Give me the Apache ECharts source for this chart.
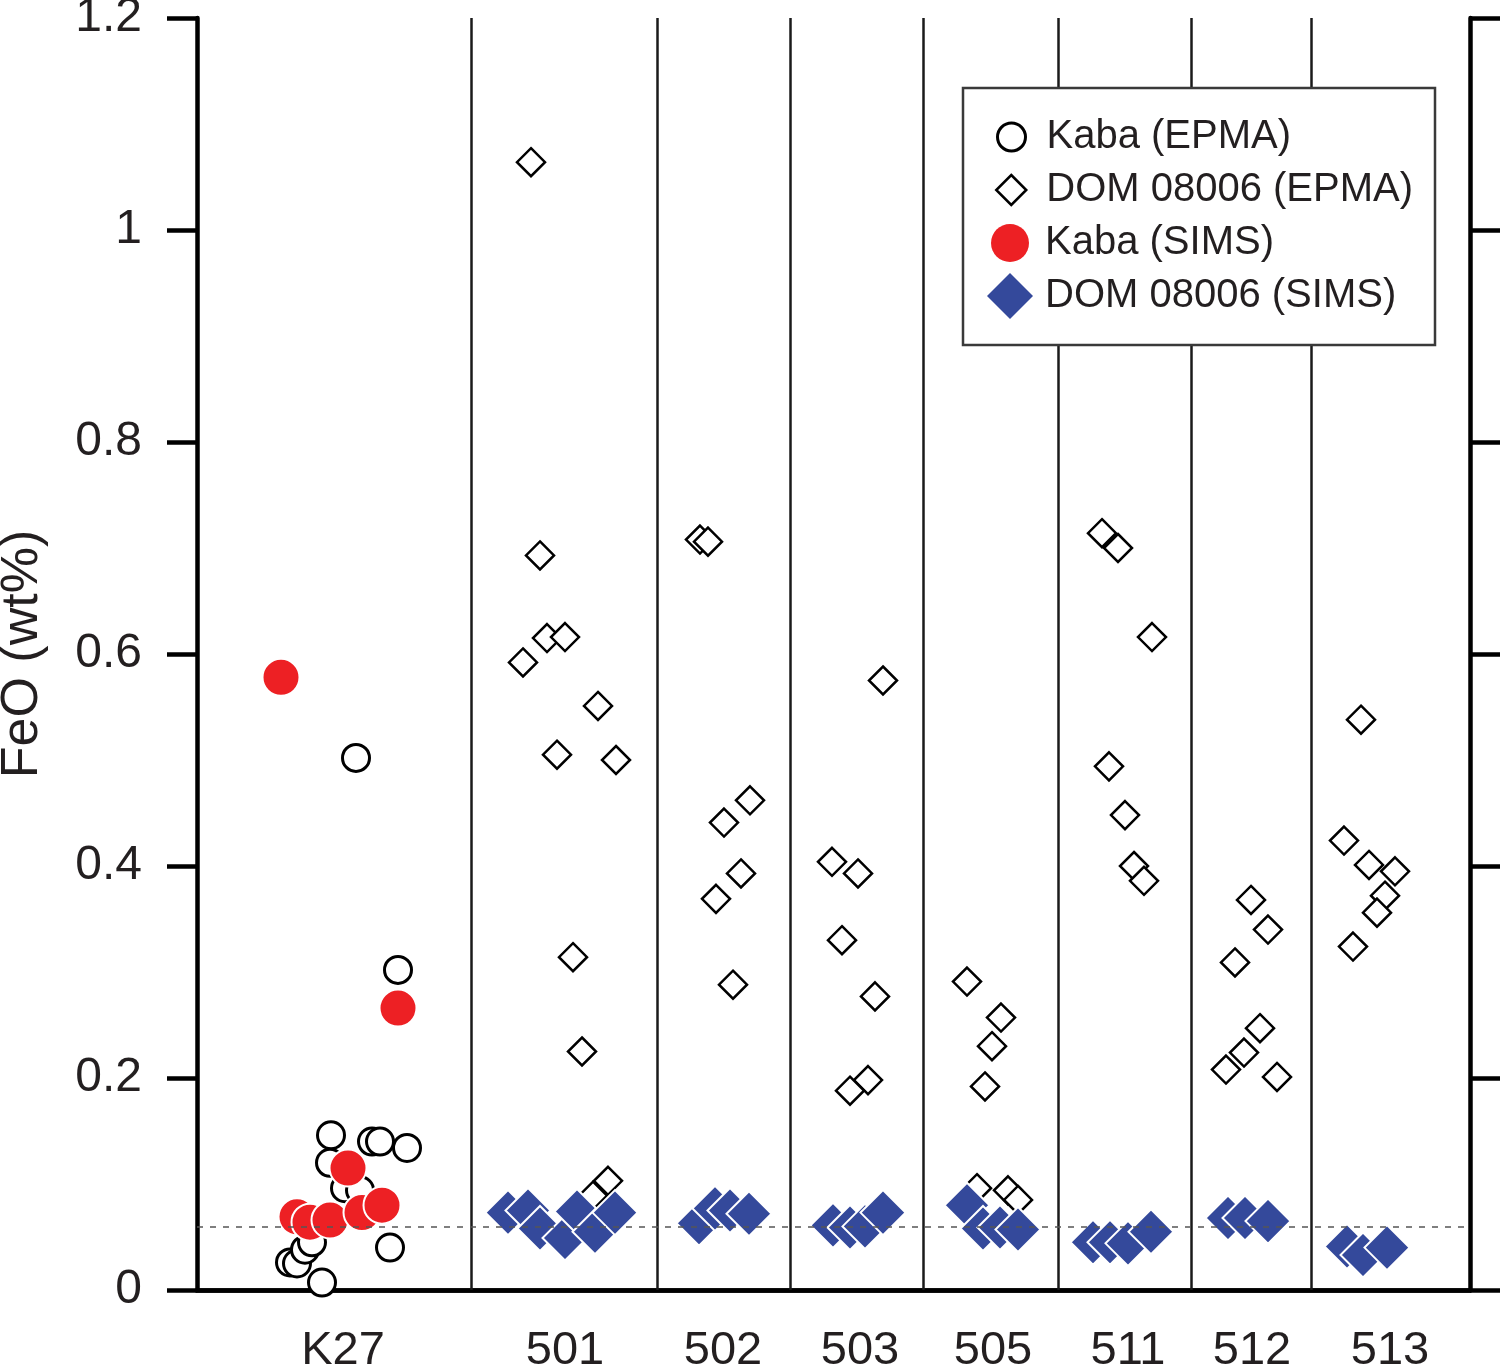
<!DOCTYPE html>
<html>
<head>
<meta charset="utf-8">
<title>FeO (wt%)</title>
<script src="https://cdn.jsdelivr.net/npm/echarts@6/dist/echarts.min.js"></script>
<style>
  html, body { margin: 0; padding: 0; background: #fff; }
  #chart { width: 1500px; height: 1367px; }
</style>
</head>
<body>
<div id="chart"></div>
<script>
// groups along the bottom, where their labels sit and where the columns split
const groups = ['K27', '501', '502', '503', '505', '511', '512', '513']
const groupCentres = [343, 565, 723, 860, 993, 1128, 1252, 1390]
const dividers = [471, 657, 790, 923, 1058, 1191, 1311]
const guideLevel = 0.055

// Kaba (EPMA), open circles
const kabaEpmaX = [356, 398, 331, 372, 380, 407, 330, 345, 360, 290, 297, 305, 312, 322, 390]
const kabaEpmaY = [0.502, 0.302, 0.146, 0.140, 0.140, 0.134, 0.120, 0.096, 0.094, 0.026, 0.025, 0.038, 0.045, 0.007, 0.040]

// DOM 08006 (EPMA), open diamonds
const domEpmaX = [
  531, 540, 523, 547, 565, 598, 557, 616, 573, 582, 608, 593,
  700, 708, 750, 724, 741, 716, 733,
  883, 832, 858, 842, 875, 868, 850,
  967, 1001, 992, 985, 977, 1008, 1018,
  1102, 1118, 1152, 1109, 1125, 1134, 1144,
  1251, 1268, 1235, 1260, 1244, 1226, 1277,
  1361, 1344, 1369, 1395, 1385, 1377, 1353
]
const domEpmaY = [
  1.064, 0.693, 0.592, 0.615, 0.616, 0.551, 0.505, 0.500, 0.314, 0.225, 0.103, 0.089,
  0.708, 0.706, 0.462, 0.441, 0.393, 0.369, 0.288,
  0.575, 0.404, 0.393, 0.330, 0.277, 0.198, 0.188,
  0.291, 0.257, 0.230, 0.192, 0.096, 0.094, 0.085,
  0.714, 0.700, 0.616, 0.494, 0.448, 0.400, 0.386,
  0.368, 0.340, 0.309, 0.247, 0.224, 0.208, 0.201,
  0.538, 0.424, 0.401, 0.395, 0.372, 0.356, 0.324
]

// Kaba (SIMS), red dots
const kabaSimsX = [281, 398, 348, 297, 310, 330, 362, 382]
const kabaSimsY = [0.578, 0.266, 0.115, 0.069, 0.064, 0.066, 0.073, 0.080]

// DOM 08006 (SIMS), blue diamonds
const domSimsX = [
  508, 528, 540, 565, 577, 595, 615,
  699, 715, 730, 749,
  833, 850, 865, 883,
  967, 983, 1000, 1018,
  1093, 1110, 1128, 1151,
  1228, 1245, 1268,
  1347, 1363, 1387
]
const domSimsY = [
  0.073, 0.075, 0.058, 0.049, 0.074, 0.055, 0.073,
  0.063, 0.077, 0.075, 0.072,
  0.061, 0.059, 0.060, 0.073,
  0.080, 0.058, 0.059, 0.057,
  0.045, 0.045, 0.044, 0.055,
  0.068, 0.068, 0.065,
  0.041, 0.033, 0.040
]

const font = 'Liberation Sans, Arial, sans-serif'
const ink = '#231f20'

function pairs(xs, ys) {
  return xs.map((x, i) => [x, ys[i]])
}

// one legend per row so each icon keeps its own size; icons centred on x=1010, text from x=1045
function legendRow(name, icon, top, size, itemStyle) {
  return {
    data: [{ name: name, icon: icon }],
    left: 1010 - size / 2,
    top: top,
    padding: 0,
    itemWidth: size,
    itemHeight: size,
    symbolKeepAspect: true,
    selectedMode: false,
    z: 60,
    itemStyle: itemStyle,
    textStyle: {
      fontFamily: font,
      fontSize: 40,
      color: ink,
      lineHeight: 46,
      padding: [0, 0, 0, 30 - size / 2]
    }
  }
}

const myChart = echarts.init(document.querySelector('#chart'))

const option = {
  animation: false,
  grid: { left: 197, right: 30, top: 18, bottom: 77, outerBoundsMode: 'none', containLabel: false },
  xAxis: [
    {
      type: 'value',
      min: 197,
      max: 1470,
      position: 'bottom',
      axisLine: { show: true, lineStyle: { color: '#000', width: 4.5 } },
      axisTick: { show: false },
      splitLine: { show: false },
      axisLabel: {
        customValues: groupCentres,
        formatter: v => groups[groupCentres.indexOf(v)],
        margin: 38,
        fontFamily: font,
        fontSize: 47,
        color: ink
      }
    },
    {
      type: 'value',
      min: 197,
      max: 1470,
      position: 'top',
      axisLine: { show: true, lineStyle: { color: '#000', width: 4.5 } },
      axisTick: { show: false },
      axisLabel: { show: false },
      splitLine: { show: false }
    }
  ],
  yAxis: [
    {
      type: 'value',
      min: 0,
      max: 1.2,
      interval: 0.2,
      name: 'FeO (wt%)',
      nameLocation: 'middle',
      nameGap: 148,
      nameTextStyle: { fontFamily: font, fontSize: 52, color: ink },
      axisLine: { show: true, lineStyle: { color: '#000', width: 4.5 } },
      axisTick: { show: true, inside: false, length: 30, lineStyle: { color: '#000', width: 4.5 } },
      axisLabel: { margin: 55, fontFamily: font, fontSize: 48, color: ink },
      splitLine: { show: false }
    },
    {
      type: 'value',
      min: 0,
      max: 1.2,
      interval: 0.2,
      position: 'right',
      axisLine: { show: true, lineStyle: { color: '#000', width: 4.5 } },
      axisTick: { show: true, inside: false, length: 30, lineStyle: { color: '#000', width: 4.5 } },
      axisLabel: { show: false },
      splitLine: { show: false }
    }
  ],
  legend: [
    legendRow('Kaba (EPMA)', 'circle', 114, 28, { color: '#fff', borderColor: '#000', borderWidth: 3 }),
    legendRow('DOM 08006 (EPMA)', 'diamond', 167, 30, { color: '#fff', borderColor: '#000', borderWidth: 2.5 }),
    legendRow('Kaba (SIMS)', 'circle', 220, 38, { color: '#ed2024', borderWidth: 0 }),
    legendRow('DOM 08006 (SIMS)', 'diamond', 273, 46, { color: '#34499b', borderWidth: 0 })
  ],
  graphic: [
    {
      type: 'rect',
      z: 50,
      shape: { x: 963, y: 88, width: 472, height: 257 },
      style: { fill: '#fff', stroke: '#3a3a3a', lineWidth: 2.5 }
    }
  ],
  series: [
    {
      // column dividers and the dotted guide line
      type: 'line',
      data: [],
      z: 1,
      silent: true,
      markLine: {
        silent: true,
        symbol: ['none', 'none'],
        label: { show: false },
        animation: false,
        data: [
          ...dividers.map(x => ({ xAxis: x, lineStyle: { color: '#1a1a1a', width: 2.5, type: 'solid' } })),
          { yAxis: guideLevel, lineStyle: { color: '#555', width: 1.5, type: [6, 7] } }
        ]
      }
    },
    {
      name: 'Kaba (EPMA)',
      type: 'scatter',
      symbol: 'circle',
      symbolSize: 27,
      symbolKeepAspect: true,
      itemStyle: { color: '#fff', borderColor: '#000', borderWidth: 3, opacity: 1 },
      emphasis: { disabled: true },
      data: pairs(kabaEpmaX, kabaEpmaY)
    },
    {
      name: 'DOM 08006 (EPMA)',
      type: 'scatter',
      symbol: 'diamond',
      symbolSize: 28,
      symbolKeepAspect: true,
      itemStyle: { color: '#fff', borderColor: '#000', borderWidth: 2.5, opacity: 1 },
      emphasis: { disabled: true },
      data: pairs(domEpmaX, domEpmaY)
    },
    {
      name: 'Kaba (SIMS)',
      type: 'scatter',
      symbol: 'circle',
      symbolSize: 37,
      symbolKeepAspect: true,
      itemStyle: { color: '#ed2024', borderColor: '#fff', borderWidth: 2, opacity: 1 },
      emphasis: { disabled: true },
      data: pairs(kabaSimsX, kabaSimsY)
    },
    {
      name: 'DOM 08006 (SIMS)',
      type: 'scatter',
      symbol: 'diamond',
      symbolSize: 45,
      symbolKeepAspect: true,
      itemStyle: { color: '#34499b', borderColor: '#fff', borderWidth: 2, opacity: 1 },
      emphasis: { disabled: true },
      data: pairs(domSimsX, domSimsY)
    }
  ]
}

myChart.setOption(option)
</script>
</body>
</html>
